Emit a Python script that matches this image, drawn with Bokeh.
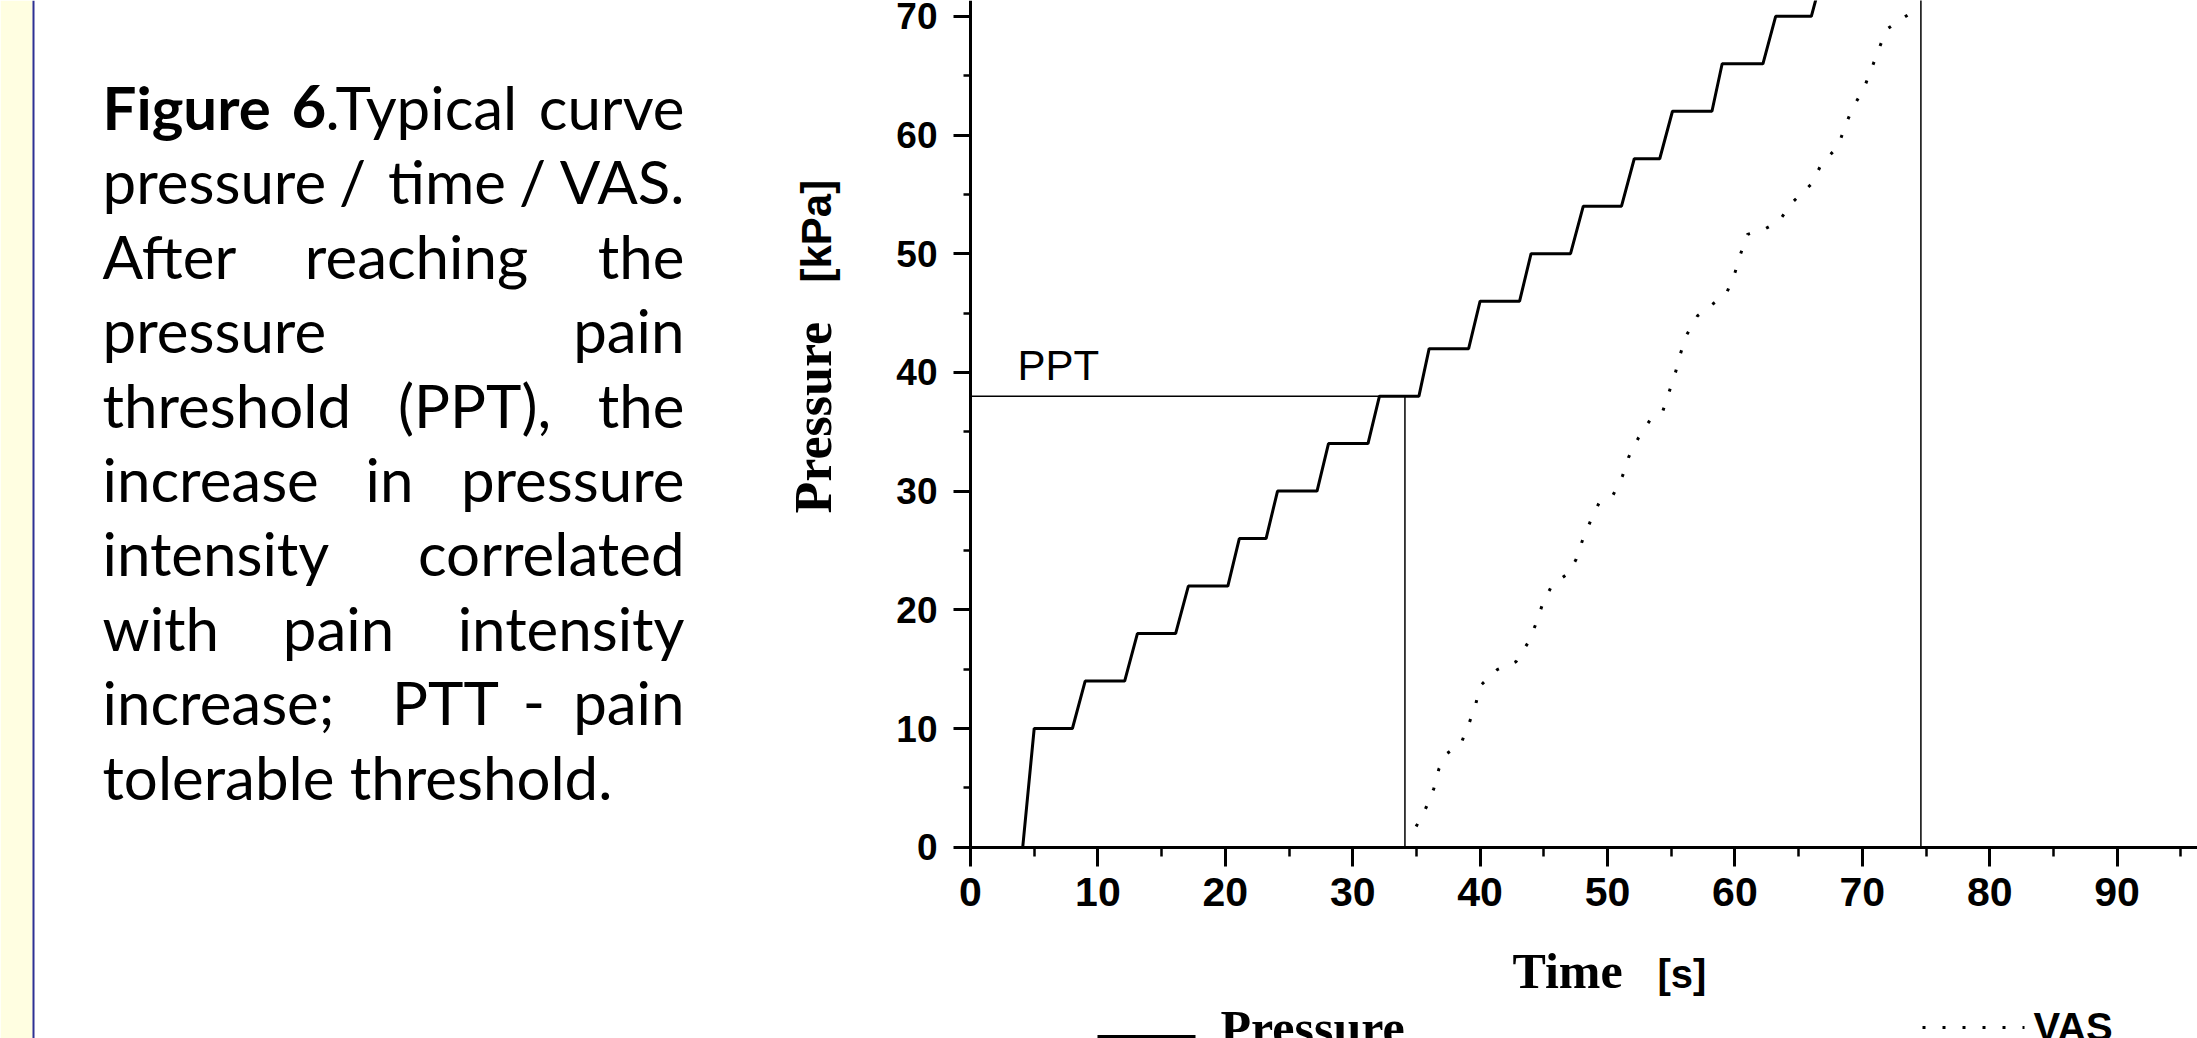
import math
from bokeh.plotting import figure
from bokeh.models import Range1d, FixedTicker
from bokeh.core.properties import value
from bokeh.embed import file_html
from bokeh.resources import INLINE

# ---------------- data ----------------
pressure_time_s = [4.1, 5.0, 8.0, 9.0, 12.1, 13.1, 16.1, 17.1, 20.2, 21.1, 23.2, 24.1,
                   27.2, 28.1, 31.2, 32.1, 35.2, 36.0, 39.1, 40.0, 43.1, 44.0, 47.1, 48.1,
                   51.1, 52.1, 54.1, 55.1, 58.2, 59.0, 62.2, 63.2, 66.0, 67.0]
pressure_kpa = [0, 10, 10, 14, 14, 18, 18, 22, 22, 26, 26, 30,
                30, 34, 34, 38, 38, 42, 42, 46, 46, 50, 50, 54,
                54, 58, 58, 62, 62, 66, 66, 70, 70, 74]

vas_time_s = [34.98, 35.77, 36.37, 36.76, 37.42, 38.51, 39.11, 39.64, 40.0, 41.34, 42.83,
              43.77, 44.40, 44.90, 45.66, 46.88, 47.54, 48.04, 48.67, 49.32, 50.42, 51.18,
              51.68, 52.44, 53.32, 54.32, 54.82, 55.31, 55.71, 56.20, 57.06, 58.50, 59.39,
              60.02, 60.44, 60.99, 62.35, 63.47, 64.49, 66.02, 66.79, 68.12, 68.63, 69.26,
              70.14, 70.73, 71.25, 71.95, 73.63]
vas_level = [1.74, 3.36, 4.95, 6.58, 7.90, 8.75, 10.35, 11.97, 13.59, 14.95, 15.64,
             17.24, 18.86, 20.48, 22.11, 23.04, 24.25, 25.87, 27.49, 28.96, 29.63, 31.28,
             32.91, 34.51, 35.95, 36.67, 38.30, 39.89, 41.52, 43.14, 44.76, 45.96, 46.78,
             48.46, 49.96, 51.63, 52.08, 52.75, 54.31, 55.88, 57.55, 59.06, 60.73, 62.29,
             63.97, 65.59, 67.14, 68.93, 70.16]

ppt_time_s = 34.1
ppt_kpa = 38
ptt_time_s = 74.6
ptt_kpa = 78

x_tick_values = [0, 10, 20, 30, 40, 50, 60, 70, 80, 90]
x_minor_values = [5, 15, 25, 35, 45, 55, 65, 75, 85, 95]
y_tick_values = [0, 10, 20, 30, 40, 50, 60, 70]
y_minor_values = [5, 15, 25, 35, 45, 55, 65]

# ---------------- layout geometry ----------------
W, H = 2197, 1038
X0, Y0 = 970.0, 846.7      # pixel position of the data origin
SX, SY = 12.74, 11.87      # pixels per unit


def px(xp):
    return (xp - X0) / SX


def py(yp):
    return (Y0 - yp) / SY


x_range = Range1d(-X0 / SX, (W - X0) / SX)
y_range = Range1d((Y0 - H) / SY, Y0 / SY)

p = figure(width=W, height=H, x_range=x_range, y_range=y_range,
           output_backend="svg", toolbar_location=None, min_border=0,
           outline_line_color=None, background_fill_color="white",
           border_fill_color="white")
p.grid.visible = False

# left yellow strip and blue rule
p.quad(left=[x_range.start], right=[px(32)], bottom=[y_range.start], top=[y_range.end],
       fill_color="#FFFEE1", line_color=None)
p.segment(x0=[px(33)], y0=[y_range.start], x1=[px(33)], y1=[y_range.end],
          line_color="#2E3192", line_width=2)

# axes placed at the data origin
p.xaxis.fixed_location = 0
p.yaxis.fixed_location = 0
p.xaxis.bounds = (0, x_range.end)
p.yaxis.bounds = (0, y_range.end)
p.xaxis.ticker = FixedTicker(ticks=x_tick_values, minor_ticks=x_minor_values)
p.yaxis.ticker = FixedTicker(ticks=y_tick_values, minor_ticks=y_minor_values)
for ax in (p.xaxis[0], p.yaxis[0]):
    ax.axis_line_width = 3
    ax.axis_line_color = "black"
    ax.major_tick_line_width = 3
    ax.minor_tick_line_width = 2.5
    ax.major_tick_in = 0
    ax.minor_tick_in = 0
    ax.major_label_text_font = "Liberation Sans"
    ax.major_label_text_font_style = "bold"
    ax.major_label_text_color = "black"
p.xaxis.major_tick_out = 19
p.xaxis.minor_tick_out = 9
p.xaxis.major_label_text_font_size = "41px"
p.xaxis.major_label_standoff = 12
p.yaxis.major_tick_out = 17
p.yaxis.minor_tick_out = 7
p.yaxis.major_label_text_font_size = "37px"
p.yaxis.major_label_standoff = 16

# series
p.line(pressure_time_s, pressure_kpa, line_color="black", line_width=3)
p.line(vas_time_s, vas_level, line_color="black", line_width=3, line_dash="3 17")
p.segment(x0=[0, ppt_time_s, ptt_time_s], y0=[ppt_kpa, 0, 0],
          x1=[ppt_time_s, ppt_time_s, ptt_time_s], y1=[ppt_kpa, ppt_kpa, ptt_kpa],
          line_color="black", line_width=1.5)

BASE_SHIFT = 0.36   # the renderer drops "alphabetic" text by about this share of the size


def txt(xp, yp, s, font, size, style="normal", align="left", rotated=False):
    """Place a text with its baseline at pixel position (xp, yp)."""
    shift = BASE_SHIFT * size
    if rotated:
        x, y, angle = px(xp - shift), py(yp), math.pi / 2
    else:
        x, y, angle = px(xp), py(yp - shift), 0.0
    p.text(x=[x], y=[y], text=[s], text_font=value(font), text_font_size=value(f"{size}px"),
           text_font_style=value(style), text_align=value(align),
           text_baseline=value("alphabetic"), text_color="black", angle=angle)


# annotation and axis titles
txt(1017, 380.5, "PPT", "Liberation Sans", 42)
txt(1512, 988, "Time", "Liberation Serif", 50, "bold")
txt(1657, 988, "[s]", "Liberation Sans", 40, "bold")
txt(832, 513, "Pressure", "Liberation Serif", 52, "bold", rotated=True)
txt(831, 282, "[kPa]", "Liberation Sans", 42, "bold", rotated=True)

# legend (as in the figure: two separate items along the bottom)
p.line([px(1097), px(1195)], [py(1036), py(1036)], line_color="black", line_width=3)
txt(1220, 1045, "Pressure", "Liberation Serif", 50, "bold")
p.line([px(1922), px(2024)], [py(1027), py(1027)], line_color="black", line_width=3,
       line_dash="3 17")
txt(2033, 1041, "VAS", "Liberation Sans", 40, "bold")

# caption (justified block)
CAP_FONT = "Lato"
CAP_SIZE = 60
CAP_TOP, CAP_STEP = 128, 74.4
caption = [
    [("Figure", "left", 102, "bold"), ("6", "left", 291, "bold"),
     (".Typical", "left", 325, "normal"), ("curve", "right", 684, "normal")],
    [("pressure", "left", 102, "normal"), ("/", "center", 352, "normal"),
     ("time", "center", 446.5, "normal"), ("/", "center", 532, "normal"),
     ("VAS.", "right", 684, "normal")],
    [("After", "left", 102, "normal"), ("reaching", "center", 416, "normal"),
     ("the", "right", 684, "normal")],
    [("pressure", "left", 102, "normal"), ("pain", "right", 684, "normal")],
    [("threshold", "left", 102, "normal"), ("(PPT),", "center", 474, "normal"),
     ("the", "right", 684, "normal")],
    [("increase", "left", 102, "normal"), ("in", "center", 389, "normal"),
     ("pressure", "right", 684, "normal")],
    [("intensity", "left", 102, "normal"), ("correlated", "right", 684, "normal")],
    [("with", "left", 102, "normal"), ("pain", "center", 338, "normal"),
     ("intensity", "right", 684, "normal")],
    [("increase;", "left", 102, "normal"), ("PTT", "center", 445, "normal"),
     ("-", "center", 533.5, "normal"), ("pain", "right", 684, "normal")],
    [("tolerable threshold.", "left", 102, "normal")],
]
for i, words in enumerate(caption):
    base = CAP_TOP + CAP_STEP * i
    for word, align, xpos, style in words:
        txt(xpos, base, word, CAP_FONT, CAP_SIZE, style, align)

open("out.html", "w").write(file_html(p, INLINE))
